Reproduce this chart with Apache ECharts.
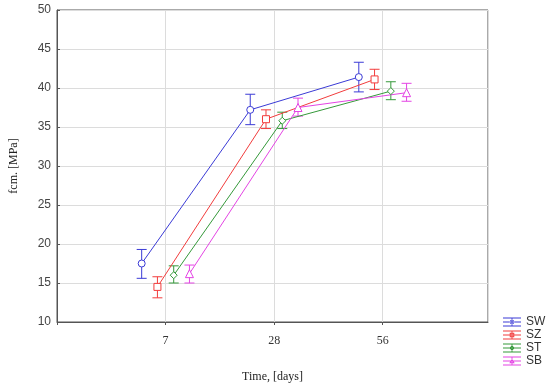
<!DOCTYPE html>
<html>
<head>
<meta charset="utf-8">
<script src="https://cdn.jsdelivr.net/npm/echarts@6/dist/echarts.min.js"></script>
<style>html,body{margin:0;padding:0;background:#fff;}#c{width:550px;height:388px;}</style>
</head>
<body>
<div id="c"></div>
<script>
var categories = ['7', '28', '56'];
var seriesNames = ['SW', 'SZ', 'ST', 'SB'];
var SW = [17.5, 37.2, 41.4];
var SW_low = [15.6, 35.3, 39.5];
var SW_high = [19.3, 39.2, 43.3];
var SZ = [14.5, 36.0, 41.1];
var SZ_low = [13.1, 34.8, 39.8];
var SZ_high = [15.8, 37.2, 42.4];
var ST = [16.0, 35.8, 39.6];
var ST_low = [15.0, 34.8, 38.5];
var ST_high = [17.2, 36.9, 40.8];
var SB = [16.2, 37.5, 39.4];
var SB_low = [15.0, 36.4, 38.3];
var SB_high = [17.3, 38.7, 40.6];
var yTicks = [10, 15, 20, 25, 30, 35, 40, 45, 50];

var means = [SW, SZ, ST, SB];
var lows = [SW_low, SZ_low, ST_low, SB_low];
var highs = [SW_high, SZ_high, ST_high, SB_high];
var offsets = [-0.22, -0.075, 0.075, 0.22];
var colors = ['#3b3bd6', '#f23c3c', '#35993a', '#e444e4'];
var symbols = ['circle', 'rect', 'diamond', 'triangle'];

function iconPath(marker) {
  var base = 'M0 0h20v1h-20z M0 4.5h20v1h-20z M0 9h20v1h-20z M9.5 0h1v10h-1z ';
  var m;
  if (marker === 0) m = 'M10 2.5a2.5 2.5 0 1 0 0.01 0z M10 3.5a1.5 1.5 0 1 1 -0.01 0z';
  else if (marker === 1) m = 'M7.5 2.5h5v5h-5z M8.5 3.5v3h3v-3z';
  else if (marker === 2) m = 'M10 2l3 3l-3 3l-3 -3z M10 3.4l-1.6 1.6l1.6 1.6l1.6 -1.6z';
  else m = 'M10 2l3 5.5h-6z M10 4l-1.4 2.5h2.8z';
  return 'path://' + base + m;
}

var series = [];
seriesNames.forEach(function (name, s) {
  var errData = categories.map(function (c, i) { return [i + 1 + offsets[s], lows[s][i], highs[s][i]]; });
  series.push({
    name: name,
    type: 'custom',
    data: errData,
    itemStyle: { color: colors[s] },
    renderItem: function (params, api) {
      var x = api.value(0);
      var lo = api.coord([x, api.value(1)]);
      var hi = api.coord([x, api.value(2)]);
      var w = 5;
      var st = { stroke: colors[s], lineWidth: 1, fill: null };
      return {
        type: 'group',
        children: [
          { type: 'line', shape: { x1: lo[0], y1: lo[1], x2: hi[0], y2: hi[1] }, style: st },
          { type: 'line', shape: { x1: lo[0] - w, y1: lo[1], x2: lo[0] + w, y2: lo[1] }, style: st },
          { type: 'line', shape: { x1: hi[0] - w, y1: hi[1], x2: hi[0] + w, y2: hi[1] }, style: st }
        ]
      };
    },
    encode: { x: 0, y: [1, 2] },
    z: 2
  });
});
seriesNames.forEach(function (name, s) {
  var lineData = categories.map(function (c, i) { return [i + 1 + offsets[s], means[s][i]]; });
  series.push({
    name: name,
    type: 'line',
    data: lineData,
    symbol: symbols[s],
    symbolSize: s === 3 ? 8 : 7,
    lineStyle: { color: colors[s], width: 1 },
    itemStyle: { color: '#ffffff', borderColor: colors[s], borderWidth: 1 },
    z: 3
  });
});

var chart = echarts.init(document.getElementById('c'));
chart.setOption({
  animation: false,
  backgroundColor: '#ffffff',
  grid: { left: 55, top: 10, right: 62, bottom: 63, show: true, borderColor: '#555555', borderWidth: 1 },
  legend: {
    orient: 'vertical',
    left: 498,
    top: 311,
    itemWidth: 18,
    itemHeight: 10,
    itemGap: 1,
    textStyle: { fontFamily: 'Liberation Sans', fontSize: 12, lineHeight: 12, color: '#333' },
    data: seriesNames.map(function (n, i) { return { name: n, icon: iconPath(i), itemStyle: { color: colors[i], borderWidth: 0 } }; })
  },
  xAxis: {
    type: 'value',
    min: 0,
    max: 3.97,
    interval: 1,
    name: 'Time, [days]',
    nameLocation: 'middle',
    nameGap: 49,
    nameTextStyle: { fontFamily: 'Liberation Serif', fontSize: 12, color: '#222' },
    axisLine: { show: true, lineStyle: { color: '#555', width: 1 } },
    axisTick: { show: true, length: 3, lineStyle: { color: '#555' } },
    axisLabel: {
      margin: 13,
      fontFamily: 'Liberation Serif', fontSize: 12, color: '#333',
      showMaxLabel: false,
      formatter: function (v) { return (v >= 1 && v <= 3 && Math.abs(v - Math.round(v)) < 1e-6) ? categories[Math.round(v) - 1] : ''; }
    },
    splitLine: { show: true, lineStyle: { color: '#dcdcdc', width: 1 } }
  },
  yAxis: {
    type: 'value',
    min: yTicks[0],
    max: yTicks[yTicks.length - 1],
    interval: 5,
    name: 'fcm. [MPa]',
    nameLocation: 'middle',
    nameGap: 37,
    nameTextStyle: { fontFamily: 'Liberation Serif', fontSize: 12, color: '#222' },
    axisLine: { show: true, lineStyle: { color: '#555', width: 1 } },
    axisTick: { show: true, inside: true, length: 3, lineStyle: { color: '#555' } },
    axisLabel: { margin: 6, fontFamily: 'Liberation Sans', fontSize: 12, color: '#444' },
    splitLine: { show: true, lineStyle: { color: '#dcdcdc', width: 1 } }
  },
  series: series
});
</script>
</body>
</html>
